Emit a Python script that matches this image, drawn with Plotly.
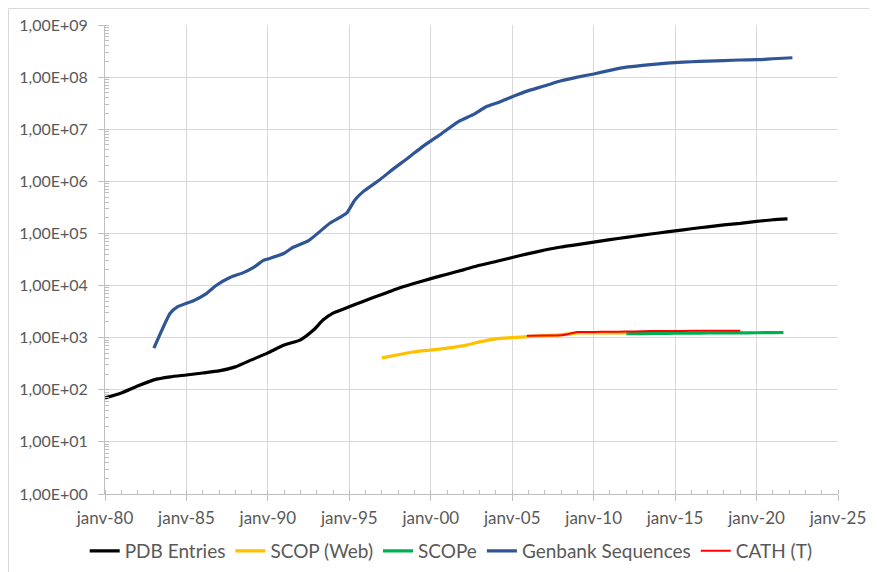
import plotly.graph_objects as go

# ---------------- data ----------------
pdb_years = [1980, 1981, 1982, 1983, 1984, 1985, 1986, 1987, 1988, 1989, 1990, 1991, 1992,
             1992.8, 1993.4, 1994, 1994.8, 1995.8, 1996.9, 1997.9, 1998.9, 2000, 2001, 2002,
             2003, 2004, 2005, 2006, 2007, 2008, 2009, 2010, 2011, 2012, 2013, 2014, 2015,
             2016, 2017, 2018, 2019, 2020, 2021, 2021.9]
pdb_vals = [70, 87, 118, 155, 177, 192, 210, 230, 275, 375, 510, 720, 910,
            1400, 2200, 2960, 3700, 4900, 6600, 8600, 10800, 13600, 16500, 20000,
            24500, 29000, 34500, 41000, 48000, 55000, 61000, 68000, 76000, 84000, 93000,
            102000, 112000, 123000, 134000, 146000, 156000, 170000, 183000, 190000]

scop_years = [1997, 1998, 1998.9, 2000, 2001, 2002.2, 2003, 2004, 2005, 2006, 2007,
              2007.9, 2009.1, 2010, 2011, 2012]
scop_vals = [410, 470, 530, 580, 630, 720, 830, 950, 1000, 1050, 1090,
             1130, 1230, 1230, 1232, 1235]

scope_years = [2012, 2013, 2014, 2015, 2016, 2017, 2018, 2019, 2020, 2021, 2021.65]
scope_vals = [1195, 1200, 1208, 1215, 1221, 1228, 1232, 1237, 1244, 1250, 1257]

genbank_years = [1983, 1984, 1984.4, 1985, 1985.4, 1986.2, 1986.8, 1987.7, 1988.5, 1989.1,
                 1989.7, 1990, 1991, 1991.55, 1992.5, 1993.8, 1994.83, 1995.34, 1995.85,
                 1996.87, 1997.5, 1998.7, 1999.5, 2000.55, 2001.7, 2002.6, 2003.4, 2004.2,
                 2005, 2006, 2007, 2008, 2009, 2010, 2011, 2012, 2013, 2014,
                 2015, 2016, 2017, 2018, 2019, 2020, 2021, 2022.2]
genbank_vals = [630, 2950, 3830, 4570, 5060, 6900, 9900, 14400, 17700, 22000,
                30000, 32400, 41700, 54300, 72800, 157000, 245000, 440000, 634000,
                1.07e6, 1.55e6, 2.96e6, 4.64e6, 7.8e6, 1.4e7, 1.9e7, 2.7e7, 3.3e7,
                4.2e7, 5.5e7, 6.8e7, 8.5e7, 1.0e8, 1.15e8, 1.35e8, 1.55e8, 1.68e8, 1.8e8,
                1.9e8, 1.97e8, 2.03e8, 2.08e8, 2.13e8, 2.16e8, 2.25e8, 2.35e8]

cath_years = [2005.9, 2007, 2008, 2009, 2010, 2011, 2012, 2013, 2014, 2015, 2016, 2017, 2018, 2019]
cath_vals = [1085, 1100, 1110, 1280, 1285, 1300, 1310, 1330, 1340, 1345, 1350, 1352, 1355, 1355]

x_tickvals = [1980, 1985, 1990, 1995, 2000, 2005, 2010, 2015, 2020, 2025]
x_ticktext = ["janv-80", "janv-85", "janv-90", "janv-95", "janv-00", "janv-05",
              "janv-10", "janv-15", "janv-20", "janv-25"]
y_tickvals = [1, 10, 100, 1e3, 1e4, 1e5, 1e6, 1e7, 1e8, 1e9]
y_ticktext = ["1,00E+00", "1,00E+01", "1,00E+02", "1,00E+03", "1,00E+04",
              "1,00E+05", "1,00E+06", "1,00E+07", "1,00E+08", "1,00E+09"]

# ---------------- figure ----------------
fig = go.Figure()
series = [
    ("PDB Entries", pdb_years, pdb_vals, "#000000", 3.2),
    ("SCOP (Web)", scop_years, scop_vals, "#FFC000", 3.2),
    ("SCOPe", scope_years, scope_vals, "#00B050", 3.2),
    ("Genbank Sequences", genbank_years, genbank_vals, "#2F5597", 3.2),
    ("CATH (T)", cath_years, cath_vals, "#FF0000", 2),
]
for name, xs, ys, col, w in series:
    fig.add_trace(go.Scatter(x=xs, y=ys, name=name, mode="lines",
                             line=dict(color=col, width=w, shape="spline", smoothing=0.5)))

W, H = 869, 564
L, R, T, B = 97, 39, 17, 78
pw, ph = W - L - R, H - T - B

fig.update_layout(
    width=W, height=H,
    margin=dict(l=L, r=R, t=T, b=B, autoexpand=False),
    paper_bgcolor="white", plot_bgcolor="white",
    font=dict(family="Lato, sans-serif", size=16, color="#595959"),
    showlegend=True,
    legend=dict(orientation="h", xref="container", x=0.51, xanchor="center",
                yref="container", y=1 - 543 / H, yanchor="middle",
                font=dict(size=19, color="#595959"),
                itemwidth=30, tracegroupgap=0),
    shapes=[dict(type="rect", xref="paper", yref="paper",
                 x0=(0.5 - L) / pw, x1=1 + 80 / pw,
                 y0=-120 / ph, y1=1 + (T - 0.5) / ph,
                 line=dict(color="#d9d9d9", width=1), fillcolor="rgba(0,0,0,0)",
                 layer="below")],
)
fig.update_xaxes(
    automargin=False,
    range=[1980, 2025], tickmode="array", tickvals=x_tickvals, ticktext=x_ticktext,
    showgrid=True, gridcolor="#d9d9d9", gridwidth=1,
    showline=True, linecolor="#bfbfbf", linewidth=1,
    ticks="outside", ticklen=6, tickcolor="#bfbfbf",
    tickfont=dict(size=17, color="#595959"), ticklabelstandoff=3,
    minor=dict(dtick=1, ticks="inside", ticklen=4, tickcolor="#bfbfbf", showgrid=False),
    zeroline=False,
)
fig.update_yaxes(
    automargin=False,
    type="log", range=[0, 9], tickmode="array", tickvals=y_tickvals, ticktext=y_ticktext,
    showgrid=True, gridcolor="#d9d9d9", gridwidth=1,
    showline=True, linecolor="#bfbfbf", linewidth=1,
    ticks="outside", ticklen=6, tickcolor="#bfbfbf",
    tickfont=dict(size=16, color="#595959"), ticklabelstandoff=7,
    minor=dict(dtick="D1", ticks="inside", ticklen=4, tickcolor="#bfbfbf", showgrid=False),
    zeroline=False,
)

fig.write_html("out.html")
